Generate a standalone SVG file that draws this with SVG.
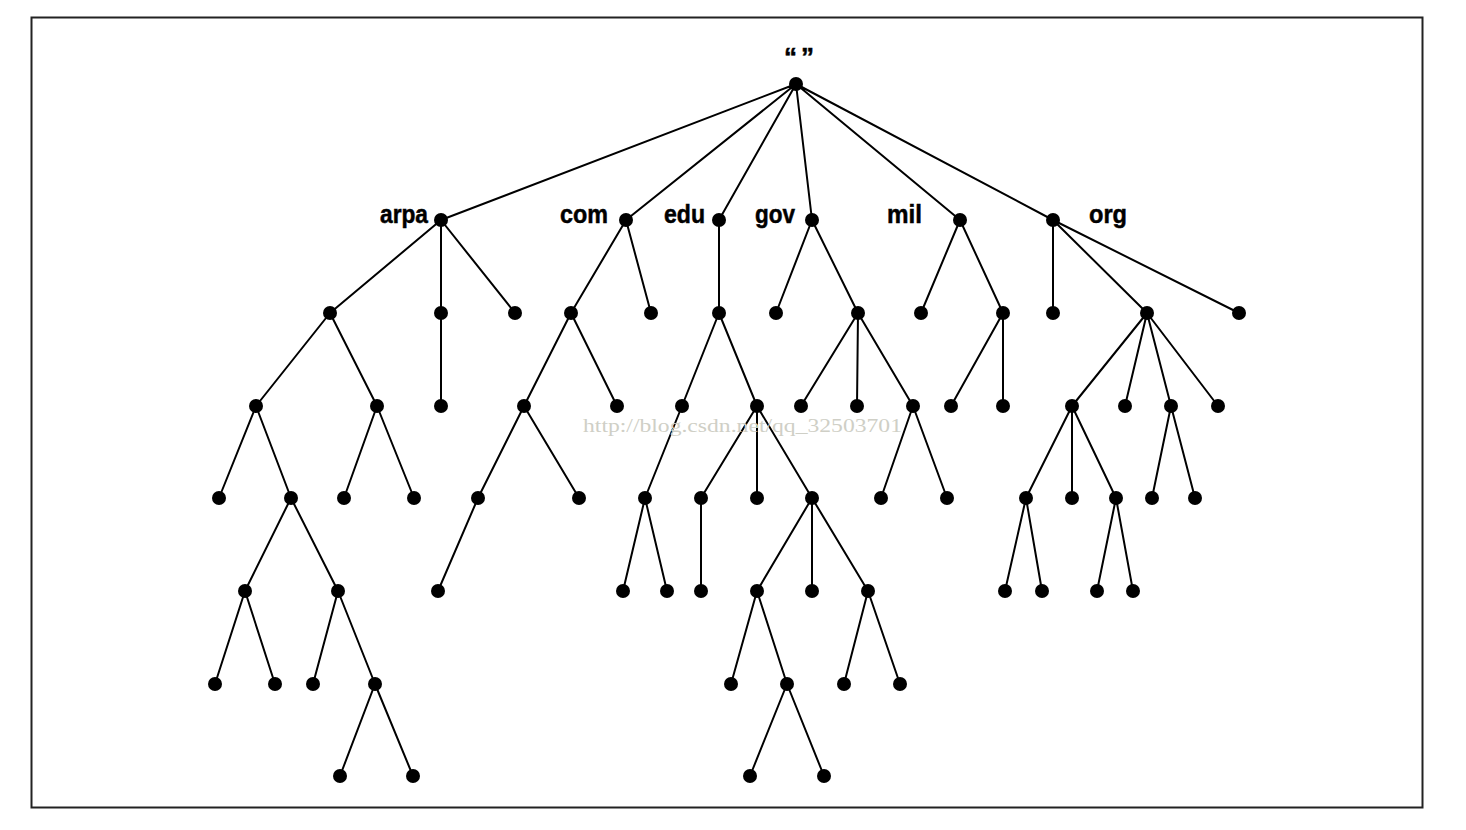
<svg xmlns="http://www.w3.org/2000/svg" width="1466" height="830" viewBox="0 0 1466 830">
<style>
.e{stroke:#000;stroke-width:2;fill:none}
.n{fill:#000}
.lb{font-family:"Liberation Sans",Arial,sans-serif;font-weight:bold;font-size:26px;fill:#000;stroke:#000;stroke-width:0.5}
.wm{font-family:"Liberation Serif","DejaVu Serif",serif;font-size:19px;fill:#cfcfc6}
</style>
<rect x="0" y="0" width="1466" height="830" fill="#fff"/>
<rect x="31.5" y="17.5" width="1391" height="790" fill="none" stroke="#222" stroke-width="2"/>
<g id="connectors">
<path class="e" d="M796 84L441 220M796 84L626 220M796 84L719 220M796 84L812 220M796 84L960 220M796 84L1053 220
M441 220L330 313M441 220L441 313M441 220L515 313
M330 313L256 406M330 313L377 406
M256 406L219 498M256 406L291 498
M291 498L245 591M291 498L338 591
M245 591L215 684M245 591L275 684
M338 591L313 684M338 591L375 684
M375 684L340 776M375 684L413 776
M377 406L344 498M377 406L414 498
M441 313L441 406
M626 220L571 313M626 220L651 313
M571 313L524 406M571 313L617 406
M524 406L478 498M524 406L579 498
M478 498L438 591
M719 220L719 313
M719 313L682 406M719 313L757 406
M682 406L645 498
M645 498L623 591M645 498L667 591
M757 406L701 498M757 406L757 498M757 406L812 498
M701 498L701 591
M812 498L757 591M812 498L812 591M812 498L868 591
M757 591L731 684M757 591L787 684
M787 684L750 776M787 684L824 776
M868 591L844 684M868 591L900 684
M812 220L776 313M812 220L858 313
M858 313L801 406M858 313L857 406M858 313L913 406
M913 406L881 498M913 406L947 498
M960 220L921 313M960 220L1003 313
M1003 313L951 406M1003 313L1003 406
M1053 220L1053 313M1053 220L1147 313M1053 220L1239 313
M1147 313L1072 406M1147 313L1125 406M1147 313L1171 406M1147 313L1218 406
M1072 406L1026 498M1072 406L1072 498M1072 406L1116 498
M1026 498L1005 591M1026 498L1042 591
M1116 498L1097 591M1116 498L1133 591
M1171 406L1152 498M1171 406L1195 498"/>
</g>
<g id="root"><circle class="n" cx="796" cy="84" r="7"/><text class="lb" y="66" font-size="30"><tspan x="784">“</tspan><tspan x="801">”</tspan></text></g>
<g id="arpa"><circle class="n" cx="441" cy="220" r="7"/><text class="lb" x="380" y="223" textLength="48" lengthAdjust="spacingAndGlyphs">arpa</text></g>
<g id="com"><circle class="n" cx="626" cy="220" r="7"/><text class="lb" x="560" y="223" textLength="48" lengthAdjust="spacingAndGlyphs">com</text></g>
<g id="edu"><circle class="n" cx="719" cy="220" r="7"/><text class="lb" x="664" y="223" textLength="41" lengthAdjust="spacingAndGlyphs">edu</text></g>
<g id="gov"><circle class="n" cx="812" cy="220" r="7"/><text class="lb" x="755" y="223" textLength="40" lengthAdjust="spacingAndGlyphs">gov</text></g>
<g id="mil"><circle class="n" cx="960" cy="220" r="7"/><text class="lb" x="887" y="223" textLength="35" lengthAdjust="spacingAndGlyphs">mil</text></g>
<g id="org"><circle class="n" cx="1053" cy="220" r="7"/><text class="lb" x="1089" y="223" textLength="38" lengthAdjust="spacingAndGlyphs">org</text></g>
<g id="arpa-1"><circle class="n" cx="330" cy="313" r="7"/></g>
<g id="arpa-2"><circle class="n" cx="441" cy="313" r="7"/></g>
<g id="arpa-3"><circle class="n" cx="515" cy="313" r="7"/></g>
<g id="arpa-1-1"><circle class="n" cx="256" cy="406" r="7"/></g>
<g id="arpa-1-2"><circle class="n" cx="377" cy="406" r="7"/></g>
<g id="arpa-2-1"><circle class="n" cx="441" cy="406" r="7"/></g>
<g id="arpa-1-1-1"><circle class="n" cx="219" cy="498" r="7"/></g>
<g id="arpa-1-1-2"><circle class="n" cx="291" cy="498" r="7"/></g>
<g id="arpa-1-2-1"><circle class="n" cx="344" cy="498" r="7"/></g>
<g id="arpa-1-2-2"><circle class="n" cx="414" cy="498" r="7"/></g>
<g id="arpa-1-1-2-1"><circle class="n" cx="245" cy="591" r="7"/></g>
<g id="arpa-1-1-2-2"><circle class="n" cx="338" cy="591" r="7"/></g>
<g id="arpa-1-1-2-1-1"><circle class="n" cx="215" cy="684" r="7"/></g>
<g id="arpa-1-1-2-1-2"><circle class="n" cx="275" cy="684" r="7"/></g>
<g id="arpa-1-1-2-2-1"><circle class="n" cx="313" cy="684" r="7"/></g>
<g id="arpa-1-1-2-2-2"><circle class="n" cx="375" cy="684" r="7"/></g>
<g id="arpa-1-1-2-2-2-1"><circle class="n" cx="340" cy="776" r="7"/></g>
<g id="arpa-1-1-2-2-2-2"><circle class="n" cx="413" cy="776" r="7"/></g>
<g id="com-1"><circle class="n" cx="571" cy="313" r="7"/></g>
<g id="com-2"><circle class="n" cx="651" cy="313" r="7"/></g>
<g id="com-1-1"><circle class="n" cx="524" cy="406" r="7"/></g>
<g id="com-1-2"><circle class="n" cx="617" cy="406" r="7"/></g>
<g id="com-1-1-1"><circle class="n" cx="478" cy="498" r="7"/></g>
<g id="com-1-1-2"><circle class="n" cx="579" cy="498" r="7"/></g>
<g id="com-1-1-1-1"><circle class="n" cx="438" cy="591" r="7"/></g>
<g id="edu-1"><circle class="n" cx="719" cy="313" r="7"/></g>
<g id="edu-1-1"><circle class="n" cx="682" cy="406" r="7"/></g>
<g id="edu-1-2"><circle class="n" cx="757" cy="406" r="7"/></g>
<g id="edu-1-1-1"><circle class="n" cx="645" cy="498" r="7"/></g>
<g id="edu-1-1-1-1"><circle class="n" cx="623" cy="591" r="7"/></g>
<g id="edu-1-1-1-2"><circle class="n" cx="667" cy="591" r="7"/></g>
<g id="edu-1-2-1"><circle class="n" cx="701" cy="498" r="7"/></g>
<g id="edu-1-2-2"><circle class="n" cx="757" cy="498" r="7"/></g>
<g id="edu-1-2-3"><circle class="n" cx="812" cy="498" r="7"/></g>
<g id="edu-1-2-1-1"><circle class="n" cx="701" cy="591" r="7"/></g>
<g id="edu-1-2-3-1"><circle class="n" cx="757" cy="591" r="7"/></g>
<g id="edu-1-2-3-2"><circle class="n" cx="812" cy="591" r="7"/></g>
<g id="edu-1-2-3-3"><circle class="n" cx="868" cy="591" r="7"/></g>
<g id="edu-1-2-3-1-1"><circle class="n" cx="731" cy="684" r="7"/></g>
<g id="edu-1-2-3-1-2"><circle class="n" cx="787" cy="684" r="7"/></g>
<g id="edu-1-2-3-3-1"><circle class="n" cx="844" cy="684" r="7"/></g>
<g id="edu-1-2-3-3-2"><circle class="n" cx="900" cy="684" r="7"/></g>
<g id="edu-1-2-3-1-2-1"><circle class="n" cx="750" cy="776" r="7"/></g>
<g id="edu-1-2-3-1-2-2"><circle class="n" cx="824" cy="776" r="7"/></g>
<g id="gov-1"><circle class="n" cx="776" cy="313" r="7"/></g>
<g id="gov-2"><circle class="n" cx="858" cy="313" r="7"/></g>
<g id="gov-2-1"><circle class="n" cx="801" cy="406" r="7"/></g>
<g id="gov-2-2"><circle class="n" cx="857" cy="406" r="7"/></g>
<g id="gov-2-3"><circle class="n" cx="913" cy="406" r="7"/></g>
<g id="gov-2-3-1"><circle class="n" cx="881" cy="498" r="7"/></g>
<g id="gov-2-3-2"><circle class="n" cx="947" cy="498" r="7"/></g>
<g id="mil-1"><circle class="n" cx="921" cy="313" r="7"/></g>
<g id="mil-2"><circle class="n" cx="1003" cy="313" r="7"/></g>
<g id="mil-2-1"><circle class="n" cx="951" cy="406" r="7"/></g>
<g id="mil-2-2"><circle class="n" cx="1003" cy="406" r="7"/></g>
<g id="org-1"><circle class="n" cx="1053" cy="313" r="7"/></g>
<g id="org-2"><circle class="n" cx="1147" cy="313" r="7"/></g>
<g id="org-3"><circle class="n" cx="1239" cy="313" r="7"/></g>
<g id="org-2-1"><circle class="n" cx="1072" cy="406" r="7"/></g>
<g id="org-2-2"><circle class="n" cx="1125" cy="406" r="7"/></g>
<g id="org-2-3"><circle class="n" cx="1171" cy="406" r="7"/></g>
<g id="org-2-4"><circle class="n" cx="1218" cy="406" r="7"/></g>
<g id="org-2-1-1"><circle class="n" cx="1026" cy="498" r="7"/></g>
<g id="org-2-1-2"><circle class="n" cx="1072" cy="498" r="7"/></g>
<g id="org-2-1-3"><circle class="n" cx="1116" cy="498" r="7"/></g>
<g id="org-2-3-1"><circle class="n" cx="1152" cy="498" r="7"/></g>
<g id="org-2-3-2"><circle class="n" cx="1195" cy="498" r="7"/></g>
<g id="org-2-1-1-1"><circle class="n" cx="1005" cy="591" r="7"/></g>
<g id="org-2-1-1-2"><circle class="n" cx="1042" cy="591" r="7"/></g>
<g id="org-2-1-3-1"><circle class="n" cx="1097" cy="591" r="7"/></g>
<g id="org-2-1-3-2"><circle class="n" cx="1133" cy="591" r="7"/></g>
<text class="wm" x="583" y="432" textLength="319" lengthAdjust="spacingAndGlyphs">http://blog.csdn.net/qq_32503701</text>
</svg>
